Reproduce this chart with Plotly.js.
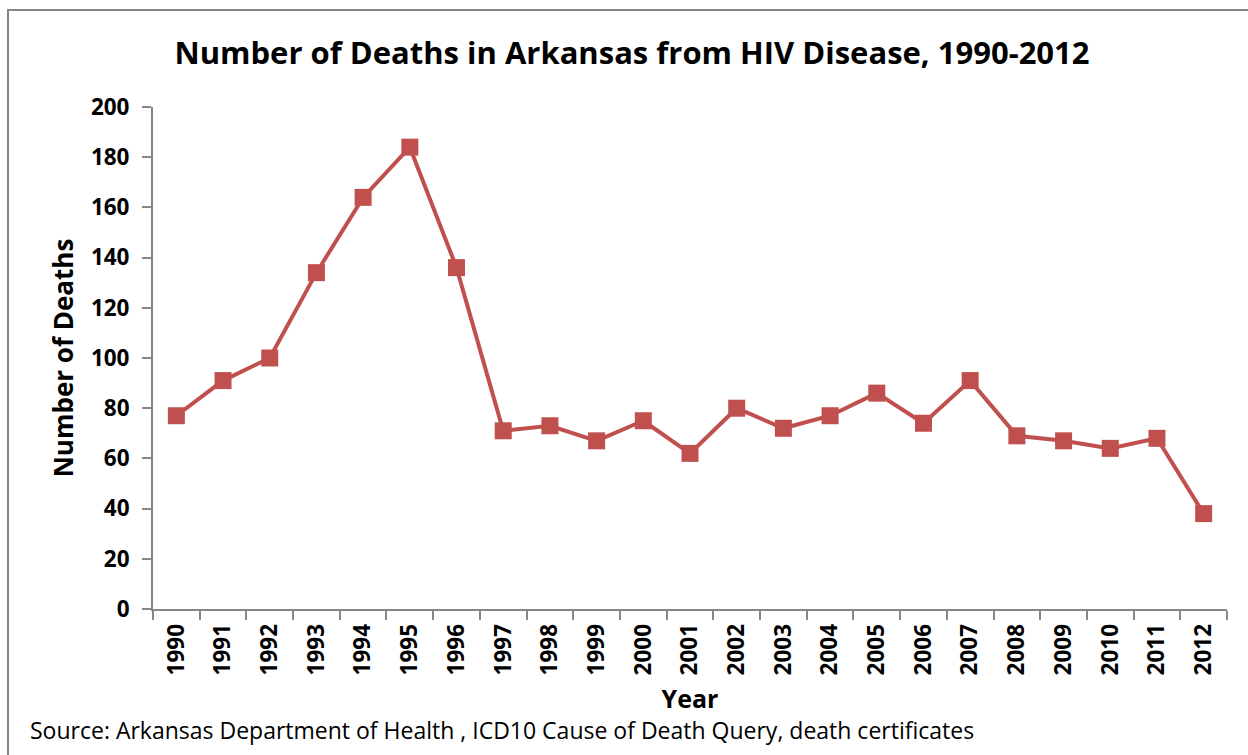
<!DOCTYPE html>
<html><head><meta charset="utf-8">
<script src="https://cdn.plot.ly/plotly-3.0.1.min.js"></script>
<style>html,body{margin:0;padding:0;background:#fff}#chart{width:1248px;height:755px}</style>
</head><body><div id="chart"></div>
<script>
const years = ["1990","1991","1992","1993","1994","1995","1996","1997","1998","1999","2000","2001","2002","2003","2004","2005","2006","2007","2008","2009","2010","2011","2012"];
const deaths = [77,91,100,134,164,184,136,71,73,67,75,62,80,72,77,86,74,91,69,67,64,68,38];
const yTicks = [0,20,40,60,80,100,120,140,160,180,200];

const F = "'Open Sans', sans-serif";
const W = 1248, H = 755;
const trace = {
  x: years, y: deaths, type: 'scatter', mode: 'lines+markers',
  line: {color: '#C0504D', width: 4},
  marker: {symbol: 'square', size: 17, color: '#C0504D'},
  cliponaxis: false, hoverinfo: 'x+y'
};
const layout = {
  width: W, height: H,
  margin: {l: 153, r: 21, t: 107, b: 146},
  paper_bgcolor: '#fff', plot_bgcolor: '#fff',
  showlegend: false,
  font: {family: F, color: '#000'},
  title: {text: '<b>Number of Deaths in Arkansas from HIV Disease, 1990-2012</b>', font: {size: 31, family: F, color: '#000'},
          x: 632/W, xanchor: 'center', xref: 'container', y: 1 - 53/H, yanchor: 'middle', yref: 'container'},
  xaxis: {
    type: 'category', tickson: 'boundaries', range: [-0.5, 22.5],
    showline: true, linecolor: '#868686', linewidth: 2,
    ticks: 'outside', ticklen: 9, tickcolor: '#868686', tickwidth: 2,
    tickangle: -90, tickfont: {size: 22.5, family: F, color: '#000', weight: 'bold'},
    ticklabelstandoff: 4,
    showgrid: false, zeroline: false,
    title: {text: '<b>Year</b>', font: {size: 25, family: F, color: '#000'}, standoff: 16}
  },
  yaxis: {
    range: [0, 200], tickvals: yTicks, ticktext: yTicks.map(String),
    showline: true, linecolor: '#868686', linewidth: 2,
    ticks: 'outside', ticklen: 9, tickcolor: '#868686', tickwidth: 2,
    tickfont: {size: 22.5, family: F, color: '#000', weight: 'bold'},
    ticklabelstandoff: 8,
    showgrid: false, zeroline: false,
    title: {text: '<b>Number of Deaths</b>', font: {size: 26, family: F, color: '#000'}, standoff: 10}
  },
  annotations: [{
    text: 'Source: Arkansas Department of Health , ICD10 Cause of Death Query, death certificates',
    xref: 'paper', yref: 'paper', x: -125/1074, y: -121/502, xanchor: 'left', yanchor: 'middle',
    showarrow: false, font: {size: 23, family: F, color: '#000'}
  }],
  shapes: [{
    type: 'rect', xref: 'paper', yref: 'paper',
    x0: -145/1074, x1: 1232/1074, y0: -150/502, y1: 599/502,
    line: {color: '#868686', width: 2}, fillcolor: 'rgba(0,0,0,0)', layer: 'below'
  }]
};
Plotly.newPlot('chart', [trace], layout, {displayModeBar: false, staticPlot: true});
</script></body></html>
